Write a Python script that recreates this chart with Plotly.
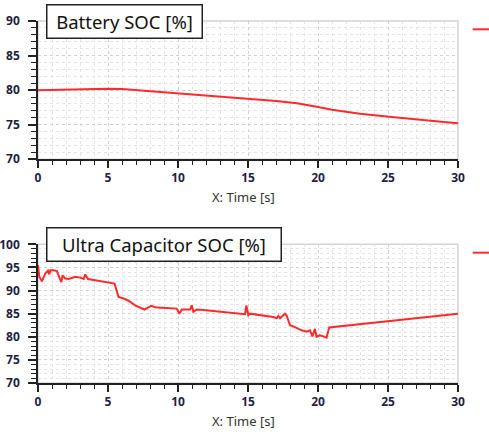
import plotly.graph_objects as go

# Battery SOC data (time [s], SOC [%])
bat_t = [0, 2, 4, 5, 6, 7, 8, 10, 12, 14.4, 15.1, 17, 18.5, 19.3, 20, 21, 22, 23, 24.9, 26.5, 27.7, 29, 30]
bat_soc = [80.0, 80.1, 80.15, 80.2, 80.15, 80.0, 79.8, 79.55, 79.2, 78.9, 78.77, 78.42, 78.1, 77.85, 77.55, 77.15, 76.85, 76.6, 76.2, 75.85, 75.6, 75.4, 75.2]

# Ultra capacitor SOC data
uc_t = [0, 0.09, 0.28, 0.52, 0.71, 0.81, 0.88, 1.11, 1.35, 1.52, 1.66, 1.76, 1.95, 2.19, 2.66, 3.02, 3.26, 3.37, 3.57,
        5.47, 5.75, 6.1, 6.46, 6.94, 7.53, 7.6, 8.08, 8.36, 8.84, 9.91, 10.1, 10.27, 10.86, 10.98, 11.1, 11.34, 11.8,
        14.79, 14.88, 15.02, 15.14, 15.37, 16.8, 17.05, 17.17, 17.29, 17.64, 17.76, 18.0, 18.35, 18.83, 19.19, 19.43,
        19.6, 19.78, 19.9, 20.14, 20.38, 20.61, 20.8, 30]
uc_soc = [95.5, 93.0, 92.0, 93.7, 94.3, 93.5, 94.4, 94.4, 94.2, 92.6, 91.8, 93.3, 92.6, 92.5, 93.0, 92.8, 92.5, 93.5, 92.5,
          91.5, 88.6, 88.3, 87.8, 86.8, 85.9, 85.9, 86.7, 86.4, 86.3, 86.1, 85.0, 85.9, 85.9, 86.8, 85.4, 85.9, 85.8,
          84.9, 86.8, 84.7, 85.0, 84.9, 84.3, 84.0, 84.5, 84.0, 85.0, 84.6, 82.5, 82.1, 81.4, 81.1, 81.4,
          80.1, 81.7, 80.0, 80.3, 80.1, 79.8, 82.0, 85.0]

titles = ["Battery SOC [%]", "Ultra Capacitor SOC [%]"]
x_title = "X: Time [s]"

LINE_RED = "#ff2a2a"
TICK_COLOR = "#1f1f3f"

fig = go.Figure()
fig.add_trace(go.Scatter(x=bat_t, y=bat_soc, mode="lines", line=dict(color=LINE_RED, width=2),
                         xaxis="x", yaxis="y", showlegend=False))
fig.add_trace(go.Scatter(x=uc_t, y=uc_soc, mode="lines", line=dict(color=LINE_RED, width=2),
                         xaxis="x2", yaxis="y2", showlegend=False))

tickfont = dict(family="Open Sans", size=12, color=TICK_COLOR, weight="bold")

def xaxis(anchor):
    return dict(anchor=anchor, range=[0, 30], dtick=5, tick0=0, showline=True, linecolor="#222",
                linewidth=1.5, ticks="outside", ticklen=7, tickwidth=1.5, tickcolor="#222",
                tickfont=tickfont, showgrid=True, gridcolor="#d0d0d0", griddash="dot", gridwidth=1,
                zeroline=False, fixedrange=True, automargin=False, ticklabelstandoff=0,
                minor=dict(dtick=1, ticks="outside", ticklen=4, tickcolor="#222", tickwidth=1.2,
                           showgrid=True, gridcolor="#e4e4e4", griddash="dot", gridwidth=1))

def yaxis(anchor, rng, domain):
    return dict(anchor=anchor, range=rng, domain=domain, dtick=5, tick0=0, showline=True, linecolor="#222",
                linewidth=1.5, ticks="outside", ticklen=8, tickwidth=1.5, tickcolor="#222",
                tickfont=tickfont, showgrid=True, gridcolor="#d0d0d0", griddash="dot", gridwidth=1,
                zeroline=False, fixedrange=True, automargin=False, ticklabelstandoff=6,
                minor=dict(dtick=1, ticks="outside", ticklen=5, tickcolor="#222", tickwidth=1.2,
                           showgrid=True, gridcolor="#e4e4e4", griddash="dot", gridwidth=1))

fig.update_layout(
    width=489, height=434,
    margin=dict(l=38, r=31, t=21, b=51, autoexpand=False),
    paper_bgcolor="white", plot_bgcolor="white",
    xaxis=xaxis("y"),
    yaxis=yaxis("x", [70, 90], [0.618, 1]),
    xaxis2=xaxis("y2"),
    yaxis2=yaxis("x2", [70, 100], [0, 0.383]),
    showlegend=False,
)

# light gray frame on top/right
for xr, yr in [("x domain", "y domain"), ("x2 domain", "y2 domain")]:
    fig.add_shape(type="rect", xref=xr, yref=yr, x0=0, x1=1, y0=0, y1=1,
                  line=dict(color="#d4d4d4", width=1.5), layer="below")

# title boxes
for i, (xr, yr) in enumerate([("x domain", "y domain"), ("x2 domain", "y2 domain")]):
    fig.add_annotation(text=titles[i], xref=xr, yref=yr, x=0.02, y=1, xanchor="left", yanchor="middle",
                       showarrow=False, font=dict(family="Noto Sans", size=18.5, color="#111"),
                       bgcolor="white", bordercolor="#222", borderwidth=1.5, borderpad=4,
                       width=[146, 225][i], height=24, align="center")
    fig.add_annotation(text=x_title, xref=xr, yref=yr, x=0.49, y=0, yshift=-38, xanchor="center",
                       yanchor="middle", showarrow=False,
                       font=dict(family="Noto Sans", size=13, color="#333"))
    # truncated legend sample at right edge
    fig.add_shape(type="line", xref="paper", yref=yr, x0=1.035, x1=1.08, y0=0.94, y1=0.94,
                  line=dict(color=LINE_RED, width=2))

fig.write_html("out.html", config={"displayModeBar": False},
               post_script="document.body.style.margin='0';")
